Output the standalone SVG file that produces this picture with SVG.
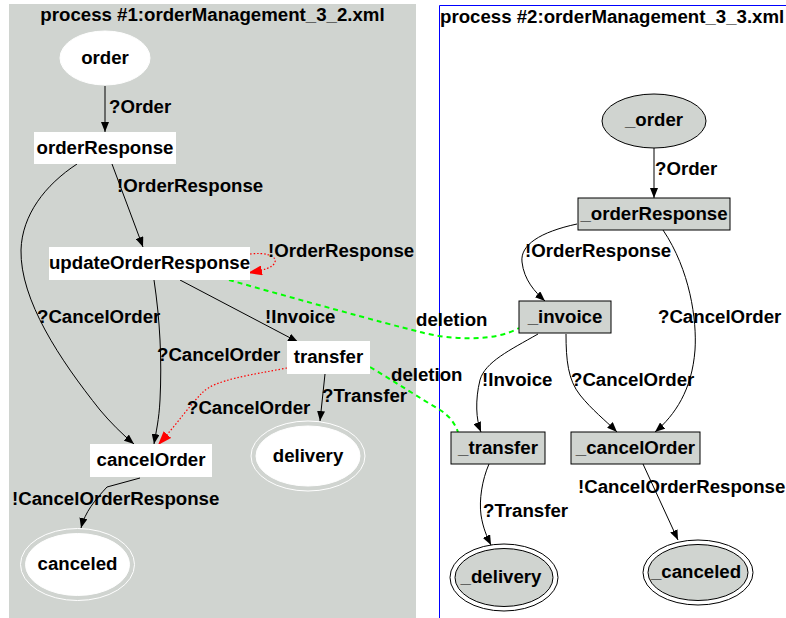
<svg xmlns="http://www.w3.org/2000/svg" width="786" height="618" viewBox="0 0 786 618">
  <defs>
    <style>
      text { font-family: "Liberation Sans", Arial, sans-serif; font-weight: bold; font-size: 18.67px; fill: #000; }
      .mid { text-anchor: middle; }
      .box1 { fill: #fff; stroke: none; }
      .ell1 { fill: #fff; stroke: #fff; stroke-width: 1; }
      .ring1 { fill: none; stroke: #fff; stroke-width: 1; }
      .box2 { fill: #d0d4d0; stroke: #000; stroke-width: 1; }
      .ring2 { fill: none; stroke: #000; stroke-width: 1; }
      .edge { fill: none; stroke: #000; stroke-width: 1; marker-end: url(#arrow); }
      .red { fill: none; stroke: #ff0000; stroke-width: 1.2; stroke-dasharray: 1.5 2; marker-end: url(#arrowRed); }
      .green { fill: none; stroke: #00ff00; stroke-width: 2; stroke-dasharray: 5 4; }
    </style>
    <marker id="arrow" markerUnits="userSpaceOnUse" markerWidth="10" markerHeight="8" refX="10" refY="4" orient="auto">
      <path d="M0,0 L10,4 L0,8 z" fill="#000"/>
    </marker>
    <marker id="arrowRed" markerUnits="userSpaceOnUse" markerWidth="14" markerHeight="10" refX="14" refY="5" orient="auto">
      <path d="M0,0 L14,5 L0,10 z" fill="#ff0000"/>
    </marker>
  </defs>

  <rect x="0" y="0" width="786" height="618" fill="#fff"/>

  <!-- process #1 cluster -->
  <g id="cluster1">
    <rect x="9" y="4" width="407" height="614" fill="#d0d4d0"/>
    <text class="mid" x="212.5" y="21">process #1:orderManagement_3_2.xml</text>
  </g>

  <!-- process #2 cluster -->
  <g id="cluster2">
    <path d="M439.5,618 L439.5,5.5 L786,5.5" fill="none" stroke="#0000ff" stroke-width="1"/>
    <text x="440" y="23">process #2:orderManagement_3_3.xml</text>
  </g>

  <!-- connectors -->
  <g id="edges">
    <path class="edge" d="M105,86 L105,132"/>
    <path class="edge" d="M112,164 L143,247"/>
    <path class="edge" d="M77,164 C45,185 22,215 21,250 C20,300 60,360 100,410 C110,422 122,434 134,444"/>
    <path class="edge" d="M154,280 C160,320 162,360 160,400 C159,420 156,432 154,444"/>
    <path class="edge" d="M180,280 L298,342"/>
    <path class="edge" d="M325,374 L320,421"/>
    <path class="edge" d="M140,478 L107,487 C95,500 85,512 81,528"/>

    <path class="red" d="M250,254 C265,252 277,256 275,262 C273,268 264,270 248,273"/>
    <path class="red" d="M287,368 C250,375 215,380 203,392 C190,405 176,425 158,445"/>

    <path class="green" d="M229,280 C300,300 380,322 420,332 C450,340 495,342 519,328"/>
    <path class="green" d="M370,367 C395,382 420,398 440,410 C450,416 455,424 458,432"/>

    <path class="edge" d="M654,148 L654,198"/>
    <path class="edge" d="M577,224 C540,232 520,245 522,262 C524,280 535,292 545,301"/>
    <path class="edge" d="M663,230 C690,270 697,320 695,350 C692,390 675,415 655,432"/>
    <path class="edge" d="M538,334 C510,350 485,362 480,380 C475,400 476,420 481,432"/>
    <path class="edge" d="M566,334 C566,360 568,380 580,395 C592,410 605,420 617,432"/>
    <path class="edge" d="M489,464 C482,480 479,500 481,515 C483,528 487,537 491,545"/>
    <path class="edge" d="M643,464 L678,540"/>

    <text x="109" y="113">?Order</text>
    <text x="117" y="192">!OrderResponse</text>
    <text x="37" y="323">?CancelOrder</text>
    <text x="157" y="361">?CancelOrder</text>
    <text x="265" y="323">!Invoice</text>
    <text x="322" y="402">?Transfer</text>
    <text x="12" y="505">!CancelOrderResponse</text>
    <text x="268" y="257">!OrderResponse</text>
    <text x="187" y="414">?CancelOrder</text>
    <text x="416" y="326">deletion</text>
    <text x="391" y="381">deletion</text>
    <text x="655" y="175">?Order</text>
    <text x="525" y="257">!OrderResponse</text>
    <text x="658" y="323">?CancelOrder</text>
    <text x="482" y="386">!Invoice</text>
    <text x="571" y="386">?CancelOrder</text>
    <text x="483" y="517">?Transfer</text>
    <text x="578" y="493">!CancelOrderResponse</text>
  </g>

  <!-- process #1 nodes -->
  <g id="order">
    <ellipse class="ell1" cx="105" cy="58" rx="45" ry="27"/>
    <text class="mid" x="105" y="64">order</text>
  </g>
  <g id="orderResponse">
    <rect class="box1" x="34" y="132" width="142" height="32"/>
    <text class="mid" x="105" y="154">orderResponse</text>
  </g>
  <g id="updateOrderResponse">
    <rect class="box1" x="49" y="247" width="201" height="33"/>
    <text class="mid" x="149.5" y="269">updateOrderResponse</text>
  </g>
  <g id="transfer">
    <rect class="box1" x="287" y="341" width="83" height="33"/>
    <text class="mid" x="328.5" y="363">transfer</text>
  </g>
  <g id="cancelOrder">
    <rect class="box1" x="90" y="444" width="122" height="33"/>
    <text class="mid" x="151" y="466">cancelOrder</text>
  </g>
  <g id="delivery">
    <ellipse class="ring1" cx="308" cy="456" rx="57" ry="35"/>
    <ellipse class="ell1" cx="308" cy="456" rx="52" ry="30"/>
    <text class="mid" x="308" y="462">delivery</text>
  </g>
  <g id="canceled">
    <ellipse class="ring1" cx="77.5" cy="564.5" rx="57" ry="36"/>
    <ellipse class="ell1" cx="77.5" cy="564.5" rx="52" ry="31"/>
    <text class="mid" x="77.5" y="570">canceled</text>
  </g>

  <!-- process #2 nodes -->
  <g id="_order">
    <ellipse class="box2" cx="654" cy="121" rx="52" ry="27"/>
    <text class="mid" x="654" y="126">_order</text>
  </g>
  <g id="_orderResponse">
    <rect class="box2" x="578" y="198" width="152" height="32"/>
    <text class="mid" x="654" y="220">_orderResponse</text>
  </g>
  <g id="_invoice">
    <rect class="box2" x="519" y="301" width="92" height="32"/>
    <text class="mid" x="565" y="323">_invoice</text>
  </g>
  <g id="_transfer">
    <rect class="box2" x="451" y="432" width="94" height="32"/>
    <text class="mid" x="498" y="454">_transfer</text>
  </g>
  <g id="_cancelOrder">
    <rect class="box2" x="571" y="432" width="129" height="32"/>
    <text class="mid" x="635.5" y="454">_cancelOrder</text>
  </g>
  <g id="_delivery">
    <ellipse class="ring2" cx="504" cy="577.5" rx="54" ry="33.5"/>
    <ellipse class="box2" cx="504" cy="577.5" rx="49" ry="29"/>
    <text class="mid" x="501" y="583">_delivery</text>
  </g>
  <g id="_canceled">
    <ellipse class="ring2" cx="698" cy="572.5" rx="55" ry="32.5"/>
    <ellipse class="box2" cx="698" cy="572.5" rx="50" ry="28"/>
    <text class="mid" x="696" y="578">_canceled</text>
  </g>
</svg>
